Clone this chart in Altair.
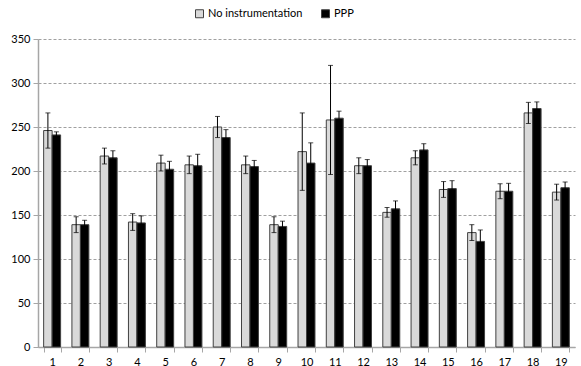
import altair as alt
import pandas as pd

categories = [str(i) for i in range(1, 20)]
series_names = ["No instrumentation", "PPP"]
no_instr = [246, 139, 217, 142, 209, 207, 250, 207, 139, 222, 258, 206, 153, 215, 179, 130, 177, 266, 176]
no_instr_err = [20, 9, 9, 9.5, 9, 10, 12, 10, 9, 44, 62, 9, 5.5, 8, 9, 9, 8.5, 12, 9]
ppp = [241, 139, 215, 141, 202, 206, 238, 205, 137, 209, 260, 206, 157, 224, 180, 120, 177, 271, 181]
ppp_err = [3.5, 5, 8, 8, 9, 13, 9, 7, 6, 23, 8, 7, 9, 7, 9, 13, 9, 7.5, 6.5]
y_ticks = [0, 50, 100, 150, 200, 250, 300, 350]

rows = []
for c, v, e in zip(categories, no_instr, no_instr_err):
    rows.append({"cat": c, "series": series_names[0], "value": v, "lo": v - e, "hi": v + e})
for c, v, e in zip(categories, ppp, ppp_err):
    rows.append({"cat": c, "series": series_names[1], "value": v, "lo": v - e, "hi": v + e})
df = pd.DataFrame(rows)

FONT = "Lato"

x_enc = alt.X(
    "cat:N",
    sort=categories,
    scale=alt.Scale(paddingInner=0.4, paddingOuter=0.2),
    axis=alt.Axis(
        title=None, labelAngle=0, tickBand="extent", domainColor="#a6a6a6",
        tickColor="#a6a6a6", tickSize=5, labelFontSize=11, labelColor="#000000",
        labelPadding=4, domainWidth=1.5, grid=False,
    ),
)
xoff = alt.XOffset("series:N", sort=series_names, scale=alt.Scale(paddingInner=0, paddingOuter=0))
y_scale = alt.Scale(domain=[0, 350], nice=False)

bars = alt.Chart(df).mark_bar(stroke="#404040", strokeWidth=1).encode(
    x=x_enc,
    xOffset=xoff,
    y=alt.Y(
        "value:Q", scale=y_scale,
        axis=alt.Axis(
            title=None, values=y_ticks, grid=True, gridDash=[3, 2], gridColor="#a0a0a0",
            domainColor="#a6a6a6", domainWidth=1.5, tickColor="#a6a6a6", tickSize=5,
            labelFontSize=11, labelColor="#000000", labelPadding=3,
        ),
    ),
    fill=alt.Fill(
        "series:N",
        scale=alt.Scale(domain=series_names, range=["#d9d9d9", "#000000"]),
        legend=alt.Legend(
            title=None, orient="none", legendX=156, legendY=-31, direction="horizontal",
            symbolType="square", symbolSize=64, symbolStrokeColor="#404040",
            symbolStrokeWidth=1, labelFontSize=11, labelColor="#000000",
            columnPadding=16, labelOffset=3,
        ),
    ),
)

rules = alt.Chart(df).mark_rule(color="#000000", strokeWidth=1).encode(
    x=alt.X("cat:N", sort=categories), xOffset=xoff,
    y=alt.Y("lo:Q", scale=y_scale), y2="hi:Q",
)
cap_hi = alt.Chart(df).mark_tick(color="#000000", size=5, thickness=1).encode(
    x=alt.X("cat:N", sort=categories), xOffset=xoff, y=alt.Y("hi:Q", scale=y_scale),
)
cap_lo = alt.Chart(df).mark_tick(color="#000000", size=5, thickness=1).encode(
    x=alt.X("cat:N", sort=categories), xOffset=xoff, y=alt.Y("lo:Q", scale=y_scale),
)

chart = alt.layer(bars, rules, cap_hi, cap_lo).properties(
    width=537, height=308,
    autosize=alt.AutoSizeParams(type="none"),
    padding={"left": 38, "top": 39, "right": 6, "bottom": 19},
).configure(font=FONT).configure_view(stroke=None).configure_axis(labelFont=FONT).configure_legend(labelFont=FONT)

chart.save("out.html", embed_options={"renderer": "svg", "actions": False})
